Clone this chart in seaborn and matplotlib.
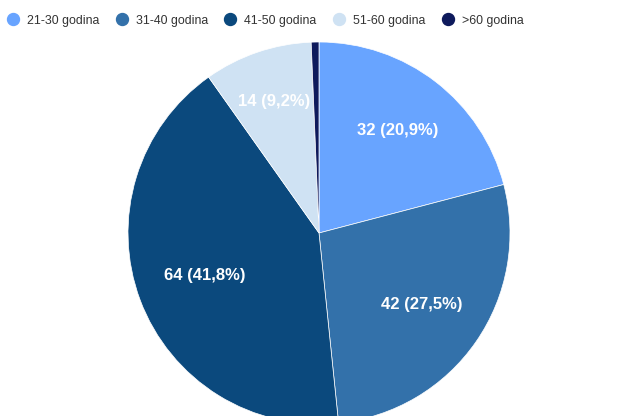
import matplotlib
matplotlib.use("Agg")
import numpy as np
import seaborn as sns
import matplotlib.pyplot as plt
from matplotlib.lines import Line2D

sns.set_theme(style="white")
plt.rcParams["font.family"] = ["Liberation Sans", "DejaVu Sans"]

# Data
categories = ["21-30 godina", "31-40 godina", "41-50 godina", "51-60 godina", ">60 godina"]
counts = [32, 42, 64, 14, 1]
colors = ["#68a4ff", "#3371aa", "#0b497d", "#cfe2f3", "#0e1a5c"]

# how far out each slice label sits (fraction of radius)
label_dist = [0.675, 0.655, 0.64, 0.73, 0.7]

total = sum(counts)


def fmt_label(pct):
    n = int(round(pct * total / 100.0))
    if n < 5:
        return ""
    return f"{n} ({pct:.1f}%)".replace(".", ",")


fig = plt.figure(figsize=(6.33, 4.16), dpi=100)
# pie centre at about (319, 233) px, radius ~191 px
W, H = 633, 416
cx, cy, r = 319, 233, 191
ax = fig.add_axes([(cx - r) / W, (H - cy - r) / H, 2 * r / W, 2 * r / H])

wedges, texts, autotexts = ax.pie(
    counts,
    colors=colors,
    startangle=90,
    counterclock=False,
    autopct=fmt_label,
    pctdistance=0.68,
    wedgeprops=dict(edgecolor="white", linewidth=0.5),
    textprops=dict(color="white", fontsize=12, fontweight="bold"),
)
for w, t, d in zip(wedges, autotexts, label_dist):
    ang = np.deg2rad((w.theta1 + w.theta2) / 2)
    t.set_position((d * np.cos(ang), d * np.sin(ang)))

ax.set_xlim(-1, 1)
ax.set_ylim(-1, 1)
ax.set_aspect("equal")

# Legend across the top
handles = [Line2D([0], [0], marker="o", linestyle="", markersize=8.6,
                  markerfacecolor=c, markeredgecolor=c) for c in colors]
fig.legend(handles, categories, ncol=5, loc="center left",
           bbox_to_anchor=(6.75 / W, 1 - 20.7 / H), frameon=False,
           fontsize=8.9, handlelength=1, handletextpad=0.62,
           columnspacing=1.33, borderpad=0, borderaxespad=0,
           labelcolor="#333333")

fig.savefig("out.png", dpi=100)
